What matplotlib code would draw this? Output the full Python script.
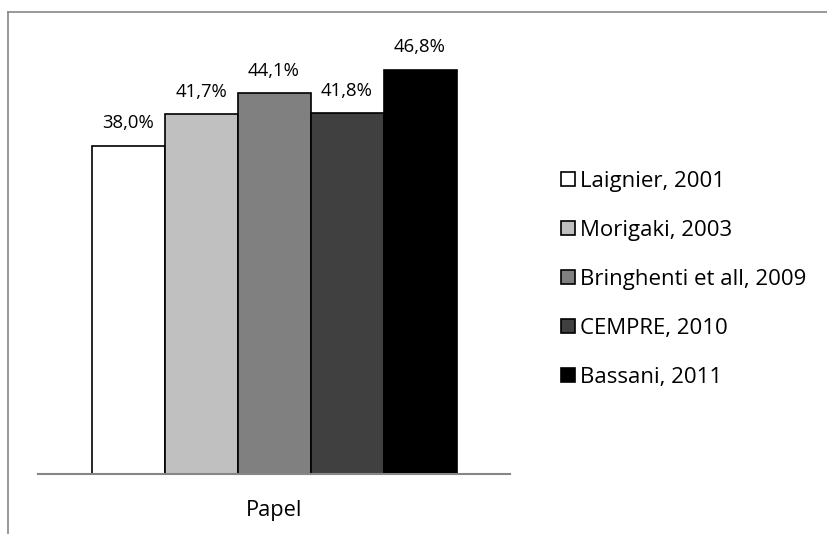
import matplotlib
matplotlib.use("Agg")
import matplotlib.pyplot as plt
from matplotlib.lines import Line2D

plt.rcParams['font.family'] = ['Open Sans', 'DejaVu Sans']

category = "Papel"
series = ["Laignier, 2001", "Morigaki, 2003", "Bringhenti et all, 2009",
          "CEMPRE, 2010", "Bassani, 2011"]
values = [38.0, 41.7, 44.1, 41.8, 46.8]
colors = ["#FFFFFF", "#C0C0C0", "#808080", "#404040", "#000000"]

W, H = 827, 534
fig = plt.figure(figsize=(W / 100, H / 100), dpi=100)

# outer chart frame (top and left edges visible)
frame_col = "#868686"
fig.add_artist(Line2D([8 / W, 8 / W], [0, 1 - 12 / H], transform=fig.transFigure,
                      color=frame_col, lw=1.2))
fig.add_artist(Line2D([8 / W, 1], [1 - 12 / H, 1 - 12 / H], transform=fig.transFigure,
                      color=frame_col, lw=1.2))

ax = fig.add_axes([38 / W, (534 - 474) / H, 472 / W, 432 / H])
ax.set_xlim(-0.5, 0.5)
ax.set_ylim(0, 50)

bw = 73 / 472
for i, (name, v, c) in enumerate(zip(series, values, colors)):
    x = (i - 2) * bw
    ax.bar(x, v, width=bw, color=c, edgecolor="black", linewidth=1.2, label=name, zorder=2)
    ax.annotate(f"{v:.1f}%".replace(".", ","), (x, v), xytext=(0, 9.5),
                textcoords="offset points", ha="center", va="bottom", fontsize=13.3)

for s in ["top", "right", "left"]:
    ax.spines[s].set_visible(False)
ax.spines["bottom"].set_color(frame_col)
ax.spines["bottom"].set_linewidth(1.5)
ax.set_yticks([])
ax.set_xticks([0])
ax.set_xticklabels([category], fontsize=15.7)
ax.tick_params(axis="x", length=0, pad=19)

leg = fig.legend(loc="upper left", bbox_to_anchor=(552 / W, 1 - 162 / H),
                 frameon=False, fontsize=16, handlelength=0.62, handleheight=0.62,
                 handletextpad=0.22, labelspacing=1.26, borderaxespad=0)

fig.savefig("out.png", dpi=100)
